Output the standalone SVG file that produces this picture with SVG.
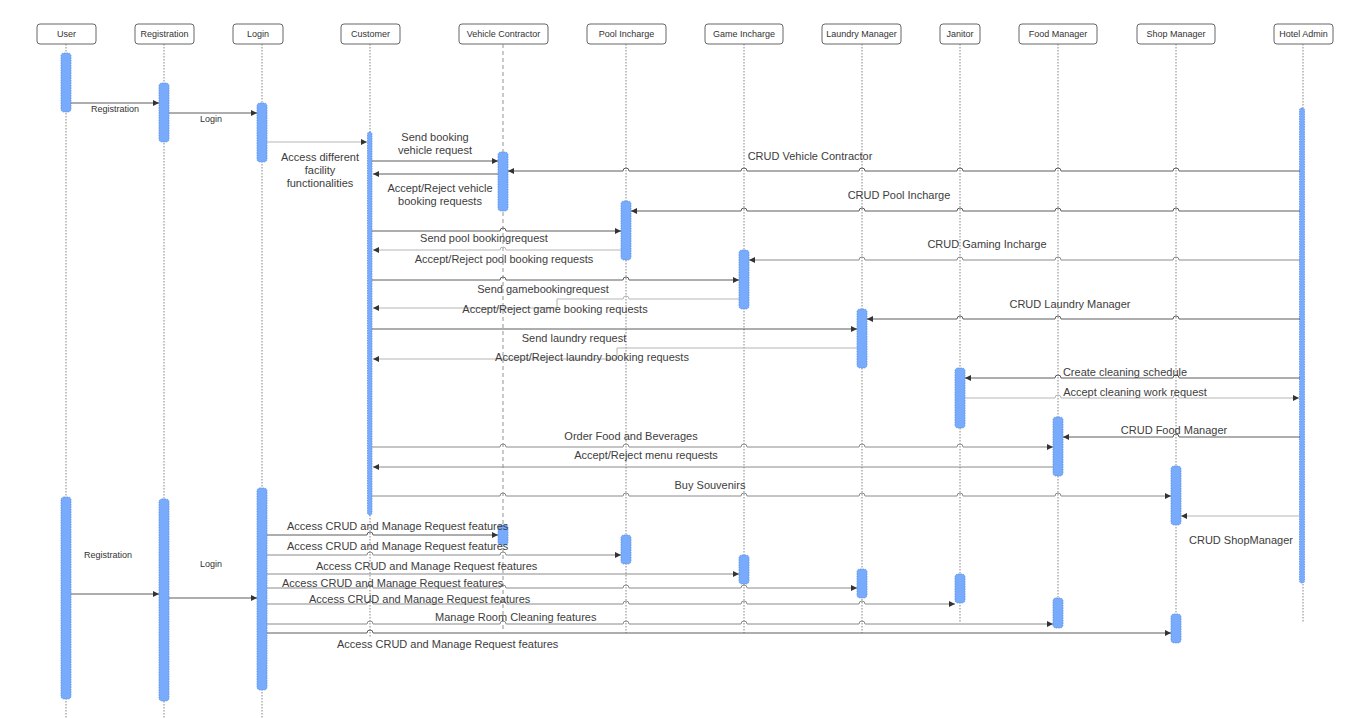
<svg xmlns="http://www.w3.org/2000/svg" width="1356" height="718" viewBox="0 0 1356 718">
<style>
  .hdr{fill:#fff;stroke:#555;stroke-width:0.9}
  .ht{font-family:"Liberation Sans",Arial,sans-serif;font-size:9px;fill:#333;text-anchor:middle}
  .life{stroke:#777;stroke-width:0.9;stroke-dasharray:1.5,1.5;fill:none}
  .lifeD{stroke:#888;stroke-width:0.9;stroke-dasharray:4,3;fill:none}
  .bar{fill:#78abfb;stroke:#5b8fe8;stroke-width:0.8;stroke-dasharray:1.5,1}
  .m{fill:none;stroke:#5c5c5c;stroke-width:1}
  .mm{fill:none;stroke:#8a8a8a;stroke-width:1}
  .ml{fill:none;stroke:#b5b5b5;stroke-width:1}
  .t{font-family:"Liberation Sans",Arial,sans-serif;font-size:11px;fill:#3d3d3d}
  .ts{font-family:"Liberation Sans",Arial,sans-serif;font-size:9px;fill:#333}
  .c{text-anchor:middle}
</style>
<defs>
  <marker id="ar" viewBox="0 0 10 10" refX="10" refY="5" markerWidth="8" markerHeight="6" markerUnits="userSpaceOnUse" orient="auto">
    <path d="M0,0 L10,5 L0,10 z" fill="#333"/>
  </marker>
</defs>
<rect width="1356" height="718" fill="#fff"/>

<g id="user">
  <rect class="hdr" x="37" y="24" width="59" height="20" rx="3"/>
  <text class="ht" x="66.5" y="37">User</text>
  <line class="life" x1="66" y1="44" x2="66" y2="718"/>
  <rect class="bar" x="61" y="53" width="10" height="59" rx="3"/>
  <rect class="bar" x="61" y="497" width="10" height="202" rx="3"/>
</g>
<g id="registration">
  <rect class="hdr" x="135" y="24" width="59" height="20" rx="3"/>
  <text class="ht" x="164.5" y="37">Registration</text>
  <line class="life" x1="164" y1="44" x2="164" y2="718"/>
  <rect class="bar" x="159" y="83" width="10" height="59" rx="3"/>
  <rect class="bar" x="159" y="499" width="10" height="202" rx="3"/>
</g>
<g id="login">
  <rect class="hdr" x="233" y="24" width="50" height="20" rx="3"/>
  <text class="ht" x="258" y="37">Login</text>
  <line class="life" x1="262" y1="44" x2="262" y2="718"/>
  <rect class="bar" x="257" y="103" width="10" height="59" rx="3"/>
  <rect class="bar" x="257" y="488" width="10" height="202" rx="3"/>
</g>
<g id="customer">
  <rect class="hdr" x="341" y="24" width="59" height="20" rx="3"/>
  <text class="ht" x="370.5" y="37">Customer</text>
  <line class="life" x1="370" y1="44" x2="370" y2="637"/>
  <rect class="bar" x="367.5" y="132" width="4.5" height="383" rx="2"/>
</g>
<g id="vehicle-contractor">
  <rect class="hdr" x="459" y="24" width="89" height="20" rx="3"/>
  <text class="ht" x="503.5" y="37">Vehicle Contractor</text>
  <line class="lifeD" x1="503" y1="44" x2="503" y2="630"/>
  <rect class="bar" x="498" y="152" width="10" height="59" rx="3"/>
  <rect class="bar" x="498" y="525" width="10" height="20" rx="3"/>
</g>
<g id="pool-incharge">
  <rect class="hdr" x="587" y="24" width="79" height="20" rx="3"/>
  <text class="ht" x="626.5" y="37">Pool Incharge</text>
  <line class="life" x1="626" y1="44" x2="626" y2="633"/>
  <rect class="bar" x="621" y="201" width="10" height="59" rx="3"/>
  <rect class="bar" x="621" y="535" width="10" height="29" rx="3"/>
</g>
<g id="game-incharge">
  <rect class="hdr" x="705" y="24" width="78" height="20" rx="3"/>
  <text class="ht" x="744" y="37">Game Incharge</text>
  <line class="life" x1="744" y1="44" x2="744" y2="633"/>
  <rect class="bar" x="739" y="250" width="10" height="59" rx="3"/>
  <rect class="bar" x="739" y="555" width="10" height="29" rx="3"/>
</g>
<g id="laundry-manager">
  <rect class="hdr" x="822" y="24" width="79" height="20" rx="3"/>
  <text class="ht" x="861.5" y="37">Laundry Manager</text>
  <line class="life" x1="862" y1="44" x2="862" y2="633"/>
  <rect class="bar" x="857" y="309" width="10" height="59" rx="3"/>
  <rect class="bar" x="857" y="569" width="10" height="29" rx="3"/>
</g>
<g id="janitor">
  <rect class="hdr" x="940" y="24" width="40" height="20" rx="3"/>
  <text class="ht" x="960" y="37">Janitor</text>
  <line class="life" x1="960" y1="44" x2="960" y2="623"/>
  <rect class="bar" x="955" y="368" width="10" height="60" rx="3"/>
  <rect class="bar" x="955" y="574" width="10" height="29" rx="3"/>
</g>
<g id="food-manager">
  <rect class="hdr" x="1019" y="24" width="78" height="20" rx="3"/>
  <text class="ht" x="1058" y="37">Food Manager</text>
  <line class="life" x1="1058" y1="44" x2="1058" y2="628"/>
  <rect class="bar" x="1053" y="417" width="10" height="59" rx="3"/>
  <rect class="bar" x="1053" y="598" width="10" height="30" rx="3"/>
</g>
<g id="shop-manager">
  <rect class="hdr" x="1137" y="24" width="78" height="20" rx="3"/>
  <text class="ht" x="1176" y="37">Shop Manager</text>
  <line class="life" x1="1176" y1="44" x2="1176" y2="643"/>
  <rect class="bar" x="1171" y="466" width="10" height="59" rx="3"/>
  <rect class="bar" x="1171" y="614" width="10" height="29" rx="3"/>
</g>
<g id="hotel-admin">
  <rect class="hdr" x="1274" y="24" width="59" height="20" rx="3"/>
  <text class="ht" x="1303.5" y="37">Hotel Admin</text>
  <line class="life" x1="1303" y1="44" x2="1303" y2="623" stroke="#aaa"/>
  <rect class="bar" x="1299.5" y="108" width="5" height="475" rx="2"/>
</g>

<g id="connectors">
  <path class="m" marker-end="url(#ar)" d="M71 103 H159"/>
  <path class="m" marker-end="url(#ar)" d="M169 113 H257"/>
  <path class="ml" marker-end="url(#ar)" d="M267 142 H367"/>
  <path class="m" marker-end="url(#ar)" d="M372 161 H498"/>
  <path class="m" marker-end="url(#ar)" d="M498 174 H373"/>
  <path class="m" marker-end="url(#ar)" d="M1300 171 H1179 a3 3 0 0 0 -6 0 H1061 a3 3 0 0 0 -6 0 H963 a3 3 0 0 0 -6 0 H865 a3 3 0 0 0 -6 0 H747 a3 3 0 0 0 -6 0 H629 a3 3 0 0 0 -6 0 H508"/>
  <path class="m" marker-end="url(#ar)" d="M1300 211 H1179 a3 3 0 0 0 -6 0 H1061 a3 3 0 0 0 -6 0 H963 a3 3 0 0 0 -6 0 H865 a3 3 0 0 0 -6 0 H747 a3 3 0 0 0 -6 0 H631"/>
  <path class="m" marker-end="url(#ar)" d="M372 231 H500 a3 3 0 0 1 6 0 H621"/>
  <path class="ml" marker-end="url(#ar)" d="M621 250 H506 a3 3 0 0 0 -6 0 H373"/>
  <path class="mm" marker-end="url(#ar)" d="M1300 260 H1179 a3 3 0 0 0 -6 0 H1061 a3 3 0 0 0 -6 0 H963 a3 3 0 0 0 -6 0 H865 a3 3 0 0 0 -6 0 H749"/>
  <path class="m" marker-end="url(#ar)" d="M372 280 H500 a3 3 0 0 1 6 0 H623 a3 3 0 0 1 6 0 H739"/>
  <path class="ml" marker-end="url(#ar)" d="M739 299 H629 a3 3 0 0 0 -6 0 H557 V308 H373"/>
  <path class="m" marker-end="url(#ar)" d="M1300 319 H1179 a3 3 0 0 0 -6 0 H1061 a3 3 0 0 0 -6 0 H963 a3 3 0 0 0 -6 0 H867"/>
  <path class="m" marker-end="url(#ar)" d="M372 329 H857"/>
  <path class="ml" marker-end="url(#ar)" d="M857 348 H617 V359 H373"/>
  <path class="m" marker-end="url(#ar)" d="M1300 378 H1179 a3 3 0 0 0 -6 0 H1061 a3 3 0 0 0 -6 0 H965"/>
  <path class="ml" marker-end="url(#ar)" d="M965 398 H1055 a3 3 0 0 1 6 0 H1173 a3 3 0 0 1 6 0 H1299"/>
  <path class="m" marker-end="url(#ar)" d="M1300 437 H1179 a3 3 0 0 0 -6 0 H1063"/>
  <path class="mm" marker-end="url(#ar)" d="M372 447 H500 a3 3 0 0 1 6 0 H623 a3 3 0 0 1 6 0 H741 a3 3 0 0 1 6 0 H859 a3 3 0 0 1 6 0 H957 a3 3 0 0 1 6 0 H1053"/>
  <path class="mm" marker-end="url(#ar)" d="M1053 467 H373"/>
  <path class="mm" marker-end="url(#ar)" d="M372 496 H500 a3 3 0 0 1 6 0 H623 a3 3 0 0 1 6 0 H741 a3 3 0 0 1 6 0 H859 a3 3 0 0 1 6 0 H957 a3 3 0 0 1 6 0 H1055 a3 3 0 0 1 6 0 H1171"/>
  <path class="ml" marker-end="url(#ar)" d="M1300 516 H1181"/>

  <path class="m" marker-end="url(#ar)" d="M71 594 H159"/>
  <path class="m" marker-end="url(#ar)" d="M169 598 H257"/>
  <path class="m" marker-end="url(#ar)" d="M267 535 H367 a3 3 0 0 1 6 0 H498"/>
  <path class="mm" marker-end="url(#ar)" d="M267 555 H367 a3 3 0 0 1 6 0 H500 a3 3 0 0 1 6 0 H621"/>
  <path class="mm" marker-end="url(#ar)" d="M267 574 H739"/>
  <path class="mm" marker-end="url(#ar)" d="M267 588 H367 a3 3 0 0 1 6 0 H500 a3 3 0 0 1 6 0 H623 a3 3 0 0 1 6 0 H741 a3 3 0 0 1 6 0 H857"/>
  <path class="mm" marker-end="url(#ar)" d="M267 604 H367 a3 3 0 0 1 6 0 H500 a3 3 0 0 1 6 0 H623 a3 3 0 0 1 6 0 H741 a3 3 0 0 1 6 0 H859 a3 3 0 0 1 6 0 H955"/>
  <path class="mm" marker-end="url(#ar)" d="M267 624 H367 a3 3 0 0 1 6 0 H500 a3 3 0 0 1 6 0 H623 a3 3 0 0 1 6 0 H741 a3 3 0 0 1 6 0 H859 a3 3 0 0 1 6 0 H1053"/>
  <path class="m" marker-end="url(#ar)" d="M267 633 H367 a3 3 0 0 1 6 0 H1171"/>
</g>

<g id="labels">
  <text class="ts c" x="115" y="112">Registration</text>
  <text class="ts c" x="211" y="122">Login</text>
  <text class="t c" x="320" y="161">Access different</text>
  <text class="t c" x="320" y="174">facility</text>
  <text class="t c" x="320" y="187">functionalities</text>
  <text class="t c" x="435" y="141">Send booking</text>
  <text class="t c" x="435" y="154">vehicle request</text>
  <text class="t c" x="440" y="192">Accept/Reject vehicle</text>
  <text class="t c" x="440" y="205">booking requests</text>
  <text class="t c" x="810" y="160">CRUD Vehicle Contractor</text>
  <text class="t c" x="899" y="199">CRUD Pool Incharge</text>
  <text class="t c" x="484" y="242">Send pool bookingrequest</text>
  <text class="t c" x="504" y="263">Accept/Reject pool booking requests</text>
  <text class="t c" x="987" y="248">CRUD Gaming Incharge</text>
  <text class="t c" x="543" y="293">Send gamebookingrequest</text>
  <text class="t c" x="555" y="313">Accept/Reject game booking requests</text>
  <text class="t c" x="1070" y="308">CRUD Laundry Manager</text>
  <text class="t c" x="574" y="342">Send laundry request</text>
  <text class="t c" x="592" y="361">Accept/Reject laundry booking requests</text>
  <text class="t c" x="1125" y="376">Create cleaning schedule</text>
  <text class="t c" x="1135" y="396">Accept cleaning work request</text>
  <text class="t c" x="1174" y="434">CRUD Food Manager</text>
  <text class="t c" x="631" y="440">Order Food and Beverages</text>
  <text class="t c" x="646" y="459">Accept/Reject menu requests</text>
  <text class="t c" x="710" y="489">Buy Souvenirs</text>
  <text class="t c" x="1241" y="544">CRUD ShopManager</text>

  <text class="ts c" x="108" y="558">Registration</text>
  <text class="ts c" x="211" y="567">Login</text>
  <text class="t" x="287" y="530">Access CRUD and Manage Request features</text>
  <text class="t" x="287" y="550">Access CRUD and Manage Request features</text>
  <text class="t" x="316" y="570">Access CRUD and Manage Request features</text>
  <text class="t" x="282" y="587">Access CRUD and Manage Request features</text>
  <text class="t" x="309" y="603">Access CRUD and Manage Request features</text>
  <text class="t" x="435" y="621">Manage Room Cleaning features</text>
  <text class="t" x="337" y="648">Access CRUD and Manage Request features</text>
</g>
</svg>
